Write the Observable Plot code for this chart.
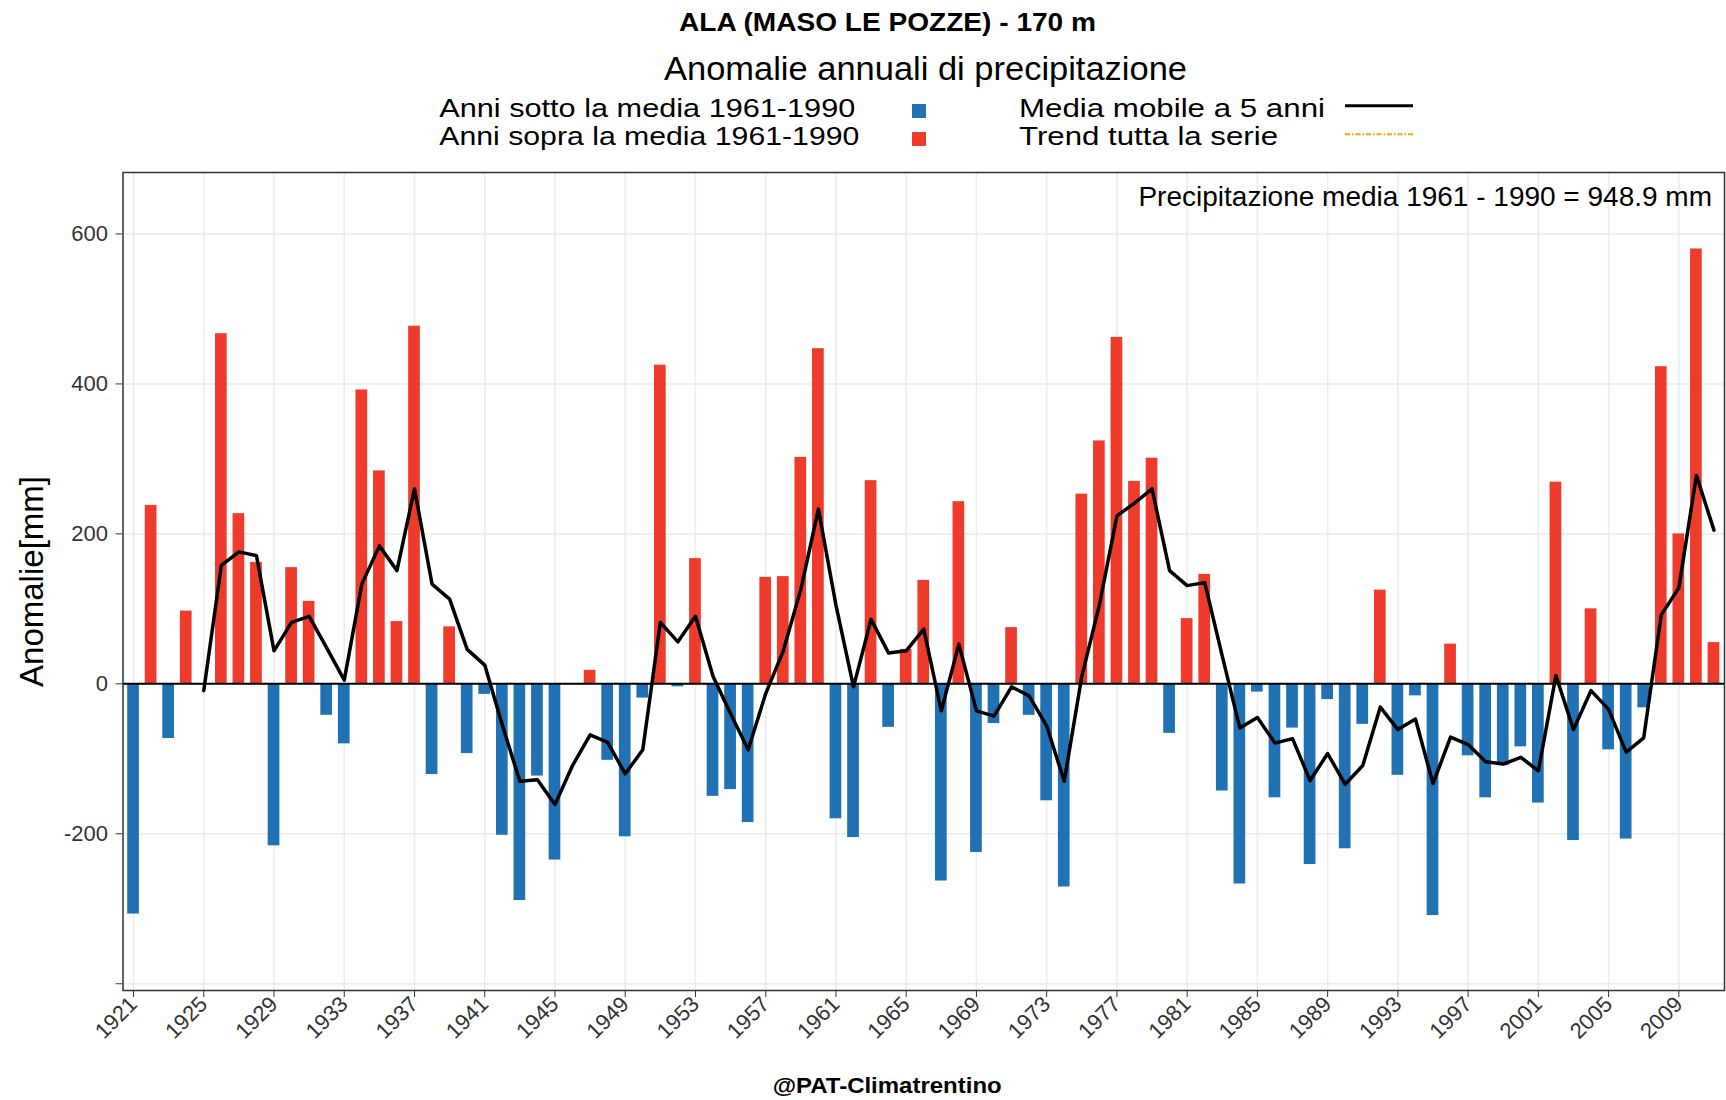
<!DOCTYPE html>
<html><head><meta charset="utf-8">
<script src="https://cdn.jsdelivr.net/npm/d3@7"></script>
<script src="https://cdn.jsdelivr.net/npm/@observablehq/plot@0.6"></script>
<style>
body{margin:0;background:#fff;font-family:"Liberation Sans",Arial,Helvetica,sans-serif;}
#wrap{width:1726px;}
svg{display:block;}
</style></head><body>
<div id="wrap">
<svg id="head" width="1726" height="150" font-family="Liberation Sans, Arial, sans-serif"></svg>
<div id="chart"></div>
<svg id="foot" width="1726" height="40" font-family="Liberation Sans, Arial, sans-serif"></svg>
</div>
<script>
// ---- data ----
const firstYear = 1921;
const anomalies = [
 -307, 238, -73, 97, 0, 467, 227, 162, -216, 155,
  110, -42, -80, 392, 284, 83, 477, -121, 76, -93,
  -14, -202, -289, -123, -235, 0, 18, -102, -204, -19,
  425, -4, 167, -150, -141, -185, 142, 143, 302, 447,
 -180, -205, 271, -58, 46, 138, -263, 243, -225, -53,
   75, -42, -156, -271, 253, 324, 462, 270, 301, -66,
   87, 146, -143, -267, -11, -152, -59, -241, -21, -220,
  -54, 125, -122, -16, -309, 53, -96, -152, -109, -84,
 -159, 269, -209, 100, -88, -207, -32, 423, 200, 580,
   55
];
const maFirstYear = 1925;
const movingAvg = [
   -9, 158, 176, 171, 44, 82, 90, 48, 5, 133,
  184, 151, 260, 133, 113, 46, 25, -55, -130, -128,
 -161, -109, -68, -78, -120, -88, 82, 56, 90, 10,
  -40, -88, -13, 44, 126, 233, 105, -4, 86, 41,
   44, 73, -36, 53, -36, -43, -4, -16, -56, -130,
   10, 105, 224, 241, 260, 151, 131, 135, 37, -59,
  -45, -79, -73, -129, -93, -134, -109, -31, -61, -47,
 -133, -71, -81, -104, -107, -98, -116, 11, -61, -9,
  -34, -91, -72, 92, 128, 278, 205
];
const xTicks = [1921,1925,1929,1933,1937,1941,1945,1949,1953,1957,1961,1965,1969,1973,1977,1981,1985,1989,1993,1997,2001,2005,2009];
const yTicks = [-400, -200, 0, 200, 400, 600];
const titleText = "ALA (MASO LE POZZE) - 170 m";
const subtitleText = "Anomalie annuali di precipitazione";
const legendBars = ["Anni sotto la media 1961-1990", "Anni sopra la media 1961-1990"];
const legendLines = ["Media mobile a 5 anni", "Trend tutta la serie"];
const noteText = "Precipitazione media 1961 - 1990 = 948.9 mm";
const yLabel = "Anomalie[mm]";
const captionText = "@PAT-Climatrentino";

const BLUE = "#2171B5", RED = "#EF3B2C";

const rows = anomalies.map((v, i) => ({year: firstYear + i, value: v}));
const maRows = movingAvg.map((v, i) => ({year: maFirstYear + i, value: v}));

// ---- header ----
const NS = "http://www.w3.org/2000/svg";
function addText(svg, txt, attrs) {
  const t = document.createElementNS(NS, "text");
  for (const k in attrs) t.setAttribute(k, attrs[k]);
  t.textContent = txt;
  svg.appendChild(t);
  return t;
}
function addEl(svg, tag, attrs) {
  const e = document.createElementNS(NS, tag);
  for (const k in attrs) e.setAttribute(k, attrs[k]);
  svg.appendChild(e);
  return e;
}
const head = document.getElementById("head");
addText(head, titleText, {x: 887.5, y: 31, "text-anchor": "middle", "font-weight": "bold", "font-size": 26, textLength: 417, lengthAdjust: "spacingAndGlyphs"});
addText(head, subtitleText, {x: 925.5, y: 80, "text-anchor": "middle", "font-size": 34, textLength: 523, lengthAdjust: "spacingAndGlyphs"});
addText(head, legendBars[0], {x: 439.3, y: 117, "font-size": 26, textLength: 416, lengthAdjust: "spacingAndGlyphs"});
addText(head, legendBars[1], {x: 439.3, y: 144.5, "font-size": 26, textLength: 420, lengthAdjust: "spacingAndGlyphs"});
addEl(head, "rect", {x: 912, y: 104, width: 14, height: 14, fill: BLUE});
addEl(head, "rect", {x: 912, y: 132, width: 14, height: 14, fill: RED});
addText(head, legendLines[0], {x: 1019, y: 117, "font-size": 26, textLength: 306, lengthAdjust: "spacingAndGlyphs"});
addText(head, legendLines[1], {x: 1019, y: 144.5, "font-size": 26, textLength: 259, lengthAdjust: "spacingAndGlyphs"});
addEl(head, "line", {x1: 1345, x2: 1413, y1: 105.7, y2: 105.7, stroke: "black", "stroke-width": 3});
addEl(head, "line", {x1: 1345, x2: 1413, y1: 134.3, y2: 134.3, stroke: "#FFA500", "stroke-width": 2, "stroke-dasharray": "5,2,1.5,2"});

// ---- chart ----
const chart = Plot.plot({
  width: 1726,
  height: 910,
  marginTop: 22,
  marginBottom: 70,
  marginLeft: 122.5,
  marginRight: 2,
  style: {fontSize: "22px", fontFamily: "Liberation Sans, Arial, sans-serif", color: "#333", background: "white", overflow: "visible"},
  x: {type: "linear", domain: [1920.4, 2011.6], ticks: xTicks, tickFormat: d => String(d), tickRotate: -45, tickSize: 7, tickPadding: 3, label: null},
  y: {domain: [-409, 682], ticks: yTicks, tickFormat: d => d === -400 ? "" : String(d), tickSize: 7, tickPadding: 8, label: null},
  marks: [
    Plot.ruleX(xTicks, {stroke: "#ebebeb", strokeWidth: 1.5}),
    Plot.ruleY(yTicks, {stroke: "#ebebeb", strokeWidth: 1.5}),
    Plot.rectY(rows.filter(d => d.value < 0), {x1: d => d.year - 1/3, x2: d => d.year + 1/3, y: "value", fill: BLUE}),
    Plot.rectY(rows.filter(d => d.value >= 0), {x1: d => d.year - 1/3, x2: d => d.year + 1/3, y: "value", fill: RED}),
    Plot.ruleY([0], {stroke: "black", strokeWidth: 2}),
    Plot.line(maRows, {x: "year", y: "value", stroke: "black", strokeWidth: 3.5, strokeLinejoin: "round"}),
    Plot.text([noteText], {text: d => d, frameAnchor: "top-right", dx: -12.5, dy: 14, lineAnchor: "top", textAnchor: "end", fontSize: 28, fill: "black"}),
    Plot.text([yLabel], {text: d => d, frameAnchor: "left", rotate: -90, dx: -91, textAnchor: "middle", lineAnchor: "middle", fontSize: 33, fill: "black"}),
    Plot.frame({stroke: "#333", strokeWidth: 1.5})
  ]
});
document.getElementById("chart").appendChild(chart);

// ---- footer ----
const foot = document.getElementById("foot");
addText(foot, captionText, {x: 887.2, y: 33, "text-anchor": "middle", "font-weight": "bold", "font-size": 22, textLength: 229, lengthAdjust: "spacingAndGlyphs"});
</script>
</body></html>
